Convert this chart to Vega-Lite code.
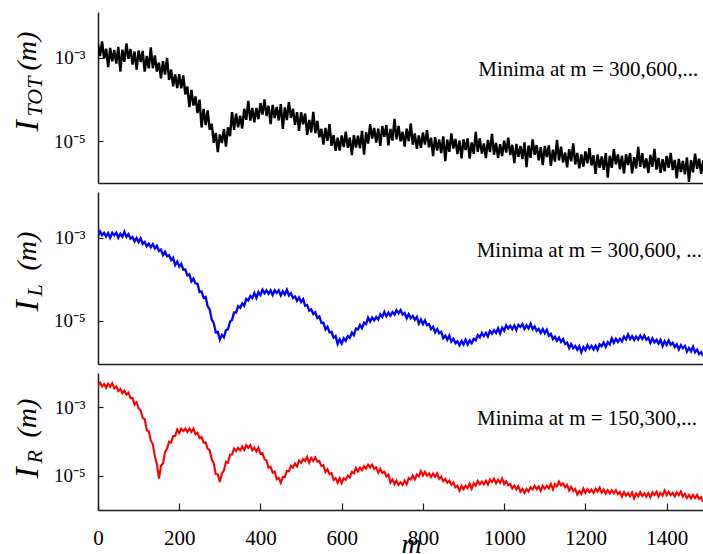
{
  "$schema": "https://vega.github.io/schema/vega-lite/v6.json",
  "padding": {"left": 10, "top": 12, "right": 0, "bottom": 0},
  "spacing": 9,
  "config": {
    "view": {"stroke": null},
    "font": "Liberation Serif",
    "axis": {
      "grid": false,
      "domainColor": "#1a1a1a",
      "domainWidth": 1.5,
      "tickColor": "#1a1a1a",
      "tickWidth": 1.2,
      "labelFont": "Liberation Serif",
      "labelColor": "#000",
      "labelFontSize": 19,
      "titleFont": "Liberation Serif",
      "titleColor": "#000",
      "titleFontWeight": "normal",
      "titleFontStyle": "italic"
    },
    "axisY": {
      "titleAngle": 270,
      "titleAlign": "left",
      "titleBaseline": "alphabetic"
    }
  },
  "datasets": {
    "tot": [
      {"m":0,"I":2.14e-3},{"m":5,"I":1.1e-3},{"m":10,"I":2.48e-3},{"m":15,"I":9.6e-4},{"m":20,"I":1.66e-3},{"m":25,"I":6.02e-4},{"m":30,"I":1.73e-3},{"m":35,"I":8.32e-4},{"m":40,"I":1.54e-3},{"m":45,"I":7.32e-4},
      {"m":50,"I":1.84e-3},{"m":55,"I":4.71e-4},{"m":60,"I":1.57e-3},{"m":65,"I":8.01e-4},{"m":70,"I":2.21e-3},{"m":75,"I":9.5e-4},{"m":80,"I":1.63e-3},{"m":85,"I":6.9e-4},{"m":90,"I":1.42e-3},{"m":95,"I":5.24e-4},
      {"m":100,"I":1.5e-3},{"m":105,"I":8.0e-4},{"m":110,"I":1.47e-3},{"m":115,"I":4.66e-4},{"m":120,"I":1.11e-3},{"m":125,"I":5.64e-4},{"m":130,"I":1.79e-3},{"m":135,"I":5.65e-4},{"m":140,"I":1.15e-3},{"m":145,"I":4.72e-4},
      {"m":150,"I":7.7e-4},{"m":155,"I":3.25e-4},{"m":160,"I":8.3e-4},{"m":165,"I":3.97e-4},{"m":170,"I":1.0e-3},{"m":175,"I":2.95e-4},{"m":180,"I":5.26e-4},{"m":185,"I":2.08e-4},{"m":190,"I":4.03e-4},{"m":195,"I":1.89e-4},
      {"m":200,"I":4.08e-4},{"m":205,"I":1.87e-4},{"m":210,"I":3.81e-4},{"m":215,"I":1.33e-4},{"m":220,"I":2.05e-4},{"m":225,"I":6.6e-5},{"m":230,"I":1.7e-4},{"m":235,"I":7.2e-5},{"m":240,"I":1.19e-4},{"m":245,"I":4.74e-5},
      {"m":250,"I":1.0e-4},{"m":255,"I":2.14e-5},{"m":260,"I":5.96e-5},{"m":265,"I":2.46e-5},{"m":270,"I":5.5e-5},{"m":275,"I":1.9e-5},{"m":280,"I":2.63e-5},{"m":285,"I":9.2e-6},{"m":290,"I":1.59e-5},{"m":295,"I":5.5e-6},
      {"m":300,"I":1.46e-5},{"m":305,"I":9.1e-6},{"m":310,"I":1.97e-5},{"m":315,"I":7.5e-6},{"m":320,"I":2.17e-5},{"m":325,"I":1.32e-5},{"m":330,"I":5.0e-5},{"m":335,"I":1.89e-5},{"m":340,"I":4.58e-5},{"m":345,"I":2.17e-5},
      {"m":350,"I":4.13e-5},{"m":355,"I":2.03e-5},{"m":360,"I":6.03e-5},{"m":365,"I":3.28e-5},{"m":370,"I":9.27e-5},{"m":375,"I":3.13e-5},{"m":380,"I":6.3e-5},{"m":385,"I":2.85e-5},{"m":390,"I":6.32e-5},{"m":395,"I":3.39e-5},
      {"m":400,"I":8.27e-5},{"m":405,"I":4.37e-5},{"m":410,"I":1.01e-4},{"m":415,"I":4.03e-5},{"m":420,"I":7.08e-5},{"m":425,"I":2.58e-5},{"m":430,"I":7.45e-5},{"m":435,"I":3.61e-5},{"m":440,"I":6.67e-5},{"m":445,"I":3.16e-5},
      {"m":450,"I":7.83e-5},{"m":455,"I":1.99e-5},{"m":460,"I":6.5e-5},{"m":465,"I":3.22e-5},{"m":470,"I":8.73e-5},{"m":475,"I":3.64e-5},{"m":480,"I":6.06e-5},{"m":485,"I":2.48e-5},{"m":490,"I":5.01e-5},{"m":495,"I":1.79e-5},
      {"m":500,"I":4.96e-5},{"m":505,"I":2.57e-5},{"m":510,"I":4.62e-5},{"m":515,"I":1.43e-5},{"m":520,"I":3.27e-5},{"m":525,"I":1.63e-5},{"m":530,"I":5.07e-5},{"m":535,"I":1.56e-5},{"m":540,"I":3.09e-5},{"m":545,"I":1.25e-5},
      {"m":550,"I":1.99e-5},{"m":555,"I":8.3e-6},{"m":560,"I":2.09e-5},{"m":565,"I":1.02e-5},{"m":570,"I":2.6e-5},{"m":575,"I":7.8e-6},{"m":580,"I":1.41e-5},{"m":585,"I":5.9e-6},{"m":590,"I":1.22e-5},{"m":595,"I":6.0e-6},
      {"m":600,"I":1.38e-5},{"m":605,"I":7.3e-6},{"m":610,"I":1.71e-5},{"m":615,"I":6.95e-6},{"m":620,"I":1.23e-5},{"m":625,"I":4.68e-6},{"m":630,"I":1.41e-5},{"m":635,"I":7.06e-6},{"m":640,"I":1.37e-5},{"m":645,"I":6.82e-6},
      {"m":650,"I":1.78e-5},{"m":655,"I":4.78e-6},{"m":660,"I":1.64e-5},{"m":665,"I":8.8e-6},{"m":670,"I":2.57e-5},{"m":675,"I":1.16e-5},{"m":680,"I":2.09e-5},{"m":685,"I":9.3e-6},{"m":690,"I":2.02e-5},{"m":695,"I":7.8e-6},
      {"m":700,"I":2.32e-5},{"m":705,"I":1.28e-5},{"m":710,"I":2.45e-5},{"m":715,"I":8.0e-6},{"m":720,"I":1.97e-5},{"m":725,"I":1.04e-5},{"m":730,"I":3.43e-5},{"m":735,"I":1.11e-5},{"m":740,"I":2.35e-5},{"m":745,"I":1.0e-5},
      {"m":750,"I":1.69e-5},{"m":755,"I":7.5e-6},{"m":760,"I":2.0e-5},{"m":765,"I":1.01e-5},{"m":770,"I":2.67e-5},{"m":775,"I":8.3e-6},{"m":780,"I":1.55e-5},{"m":785,"I":6.6e-6},{"m":790,"I":1.38e-5},{"m":795,"I":7.0e-6},
      {"m":800,"I":1.62e-5},{"m":805,"I":8.3e-6},{"m":810,"I":1.86e-5},{"m":815,"I":7.2e-6},{"m":820,"I":1.22e-5},{"m":825,"I":4.41e-6},{"m":830,"I":1.26e-5},{"m":835,"I":6.0e-6},{"m":840,"I":1.1e-5},{"m":845,"I":5.24e-6},
      {"m":850,"I":1.31e-5},{"m":855,"I":3.33e-6},{"m":860,"I":1.09e-5},{"m":865,"I":5.57e-6},{"m":870,"I":1.55e-5},{"m":875,"I":6.7e-6},{"m":880,"I":1.14e-5},{"m":885,"I":4.94e-6},{"m":890,"I":1.03e-5},{"m":895,"I":3.89e-6},
      {"m":900,"I":1.11e-5},{"m":905,"I":6.16e-6},{"m":910,"I":1.17e-5},{"m":915,"I":3.85e-6},{"m":920,"I":9.4e-6},{"m":925,"I":5.0e-6},{"m":930,"I":1.69e-5},{"m":935,"I":5.56e-6},{"m":940,"I":1.18e-5},{"m":945,"I":5.08e-6},
      {"m":950,"I":8.9e-6},{"m":955,"I":3.95e-6},{"m":960,"I":1.08e-5},{"m":965,"I":5.54e-6},{"m":970,"I":1.51e-5},{"m":975,"I":4.76e-6},{"m":980,"I":9.2e-6},{"m":985,"I":3.99e-6},{"m":990,"I":8.5e-6},{"m":995,"I":4.39e-6},
      {"m":1000,"I":1.03e-5},{"m":1005,"I":5.35e-6},{"m":1010,"I":1.22e-5},{"m":1015,"I":4.72e-6},{"m":1020,"I":8.25e-6},{"m":1025,"I":2.99e-6},{"m":1030,"I":8.66e-6},{"m":1035,"I":4.22e-6},{"m":1040,"I":7.73e-6},{"m":1045,"I":3.74e-6},
      {"m":1050,"I":9.4e-6},{"m":1055,"I":2.39e-6},{"m":1060,"I":7.9e-6},{"m":1065,"I":4.0e-6},{"m":1070,"I":1.11e-5},{"m":1075,"I":4.76e-6},{"m":1080,"I":8.1e-6},{"m":1085,"I":3.49e-6},{"m":1090,"I":7.2e-6},{"m":1095,"I":2.7e-6},
      {"m":1100,"I":7.7e-6},{"m":1105,"I":4.2e-6},{"m":1110,"I":8.0e-6},{"m":1115,"I":2.57e-6},{"m":1120,"I":6.3e-6},{"m":1125,"I":3.26e-6},{"m":1130,"I":1.08e-5},{"m":1135,"I":3.51e-6},{"m":1140,"I":7.4e-6},{"m":1145,"I":3.12e-6},
      {"m":1150,"I":5.36e-6},{"m":1155,"I":2.38e-6},{"m":1160,"I":6.43e-6},{"m":1165,"I":3.32e-6},{"m":1170,"I":8.9e-6},{"m":1175,"I":2.78e-6},{"m":1180,"I":5.26e-6},{"m":1185,"I":2.25e-6},{"m":1190,"I":4.82e-6},{"m":1195,"I":2.46e-6},
      {"m":1200,"I":5.74e-6},{"m":1205,"I":2.95e-6},{"m":1210,"I":6.81e-6},{"m":1215,"I":2.64e-6},{"m":1220,"I":4.61e-6},{"m":1225,"I":1.66e-6},{"m":1230,"I":4.82e-6},{"m":1235,"I":2.32e-6},{"m":1240,"I":4.34e-6},{"m":1245,"I":2.08e-6},
      {"m":1250,"I":5.22e-6},{"m":1255,"I":1.35e-6},{"m":1260,"I":4.5e-6},{"m":1265,"I":2.32e-6},{"m":1270,"I":6.52e-6},{"m":1275,"I":2.8e-6},{"m":1280,"I":4.82e-6},{"m":1285,"I":2.13e-6},{"m":1290,"I":4.49e-6},{"m":1295,"I":1.69e-6},
      {"m":1300,"I":4.88e-6},{"m":1305,"I":2.71e-6},{"m":1310,"I":5.22e-6},{"m":1315,"I":1.71e-6},{"m":1320,"I":4.17e-6},{"m":1325,"I":2.23e-6},{"m":1330,"I":7.38e-6},{"m":1335,"I":2.44e-6},{"m":1340,"I":5.17e-6},{"m":1345,"I":2.25e-6},
      {"m":1350,"I":3.89e-6},{"m":1355,"I":1.74e-6},{"m":1360,"I":4.71e-6},{"m":1365,"I":2.44e-6},{"m":1370,"I":6.57e-6},{"m":1375,"I":2.1e-6},{"m":1380,"I":4.01e-6},{"m":1385,"I":1.75e-6},{"m":1390,"I":3.71e-6},{"m":1395,"I":1.91e-6},
      {"m":1400,"I":4.48e-6},{"m":1405,"I":2.33e-6},{"m":1410,"I":5.29e-6},{"m":1415,"I":2.05e-6},{"m":1420,"I":3.57e-6},{"m":1425,"I":1.3e-6},{"m":1430,"I":3.77e-6},{"m":1435,"I":1.82e-6},{"m":1440,"I":3.37e-6},{"m":1445,"I":1.62e-6},
      {"m":1450,"I":4.09e-6},{"m":1455,"I":1.06e-6},{"m":1460,"I":3.51e-6},{"m":1465,"I":1.81e-6},{"m":1470,"I":5.04e-6},{"m":1475,"I":2.2e-6},{"m":1480,"I":3.81e-6},{"m":1485,"I":1.65e-6},{"m":1490,"I":3.51e-6}
    ],
    "left": [
      {"m":0,"I":1.07e-3},{"m":5,"I":1.41e-3},{"m":10,"I":1.15e-3},{"m":15,"I":1.32e-3},{"m":20,"I":1.07e-3},{"m":25,"I":1.29e-3},{"m":30,"I":1.0e-3},{"m":35,"I":1.32e-3},{"m":40,"I":1.15e-3},{"m":45,"I":1.33e-3},
      {"m":50,"I":1.0e-3},{"m":55,"I":1.24e-3},{"m":60,"I":1.05e-3},{"m":65,"I":1.4e-3},{"m":70,"I":1.05e-3},{"m":75,"I":1.22e-3},{"m":80,"I":9.5e-4},{"m":85,"I":1.04e-3},{"m":90,"I":8.1e-4},{"m":95,"I":9.9e-4},
      {"m":100,"I":7.8e-4},{"m":105,"I":9.7e-4},{"m":110,"I":7.1e-4},{"m":115,"I":7.9e-4},{"m":120,"I":6.2e-4},{"m":125,"I":7.2e-4},{"m":130,"I":5.9e-4},{"m":135,"I":7.0e-4},{"m":140,"I":5.5e-4},{"m":145,"I":6.4e-4},
      {"m":150,"I":4.8e-4},{"m":155,"I":5.2e-4},{"m":160,"I":3.8e-4},{"m":165,"I":4.6e-4},{"m":170,"I":3.55e-4},{"m":175,"I":3.8e-4},{"m":180,"I":2.9e-4},{"m":185,"I":3.3e-4},{"m":190,"I":2.2e-4},{"m":195,"I":2.66e-4},
      {"m":200,"I":2.0e-4},{"m":205,"I":2.34e-4},{"m":210,"I":1.7e-4},{"m":215,"I":1.72e-4},{"m":220,"I":1.23e-4},{"m":225,"I":1.3e-4},{"m":230,"I":8.9e-5},{"m":235,"I":1.04e-4},{"m":240,"I":7.9e-5},{"m":245,"I":7.8e-5},
      {"m":250,"I":4.9e-5},{"m":255,"I":5.1e-5},{"m":260,"I":3.55e-5},{"m":265,"I":3.76e-5},{"m":270,"I":2.24e-5},{"m":275,"I":1.88e-5},{"m":280,"I":1.07e-5},{"m":285,"I":8.8e-6},{"m":290,"I":5.25e-6},{"m":295,"I":5.4e-6},
      {"m":300,"I":3.55e-6},{"m":305,"I":4.57e-6},{"m":310,"I":3.98e-6},{"m":315,"I":5.96e-6},{"m":320,"I":6.2e-6},{"m":325,"I":9.5e-6},{"m":330,"I":1.05e-5},{"m":335,"I":1.58e-5},{"m":340,"I":1.58e-5},{"m":345,"I":2.24e-5},
      {"m":350,"I":2.04e-5},{"m":355,"I":2.63e-5},{"m":360,"I":2.29e-5},{"m":365,"I":3.35e-5},{"m":370,"I":3.09e-5},{"m":375,"I":3.94e-5},{"m":380,"I":3.55e-5},{"m":385,"I":4.68e-5},{"m":390,"I":3.55e-5},{"m":395,"I":4.9e-5},
      {"m":400,"I":4.17e-5},{"m":405,"I":5.6e-5},{"m":410,"I":4.57e-5},{"m":415,"I":5.4e-5},{"m":420,"I":4.47e-5},{"m":425,"I":5.4e-5},{"m":430,"I":4.17e-5},{"m":435,"I":5.4e-5},{"m":440,"I":4.68e-5},{"m":445,"I":5.4e-5},
      {"m":450,"I":4.07e-5},{"m":455,"I":5.1e-5},{"m":460,"I":4.27e-5},{"m":465,"I":5.6e-5},{"m":470,"I":4.07e-5},{"m":475,"I":4.62e-5},{"m":480,"I":3.55e-5},{"m":485,"I":3.85e-5},{"m":490,"I":3.02e-5},{"m":495,"I":3.63e-5},
      {"m":500,"I":2.82e-5},{"m":505,"I":3.31e-5},{"m":510,"I":2.29e-5},{"m":515,"I":2.4e-5},{"m":520,"I":1.74e-5},{"m":525,"I":1.88e-5},{"m":530,"I":1.45e-5},{"m":535,"I":1.6e-5},{"m":540,"I":1.17e-5},{"m":545,"I":1.27e-5},
      {"m":550,"I":8.9e-6},{"m":555,"I":9.0e-6},{"m":560,"I":6.2e-6},{"m":565,"I":7.2e-6},{"m":570,"I":5.25e-6},{"m":575,"I":5.4e-6},{"m":580,"I":3.9e-6},{"m":585,"I":4.3e-6},{"m":590,"I":2.75e-6},{"m":595,"I":3.55e-6},
      {"m":600,"I":2.82e-6},{"m":605,"I":3.8e-6},{"m":610,"I":3.31e-6},{"m":615,"I":4.27e-6},{"m":620,"I":3.9e-6},{"m":625,"I":5.2e-6},{"m":630,"I":4.47e-6},{"m":635,"I":6.5e-6},{"m":640,"I":6.2e-6},{"m":645,"I":7.9e-6},
      {"m":650,"I":6.6e-6},{"m":655,"I":9.0e-6},{"m":660,"I":8.3e-6},{"m":665,"I":1.19e-5},{"m":670,"I":9.5e-6},{"m":675,"I":1.2e-5},{"m":680,"I":1.02e-5},{"m":685,"I":1.23e-5},{"m":690,"I":1.07e-5},{"m":695,"I":1.43e-5},
      {"m":700,"I":1.23e-5},{"m":705,"I":1.64e-5},{"m":710,"I":1.29e-5},{"m":715,"I":1.57e-5},{"m":720,"I":1.32e-5},{"m":725,"I":1.62e-5},{"m":730,"I":1.41e-5},{"m":735,"I":1.8e-5},{"m":740,"I":1.51e-5},{"m":745,"I":1.82e-5},
      {"m":750,"I":1.41e-5},{"m":755,"I":1.55e-5},{"m":760,"I":1.15e-5},{"m":765,"I":1.45e-5},{"m":770,"I":1.15e-5},{"m":775,"I":1.3e-5},{"m":780,"I":1.05e-5},{"m":785,"I":1.24e-5},{"m":790,"I":8.5e-6},{"m":795,"I":1.07e-5},
      {"m":800,"I":8.3e-6},{"m":805,"I":1.02e-5},{"m":810,"I":7.8e-6},{"m":815,"I":8.3e-6},{"m":820,"I":6.3e-6},{"m":825,"I":7.2e-6},{"m":830,"I":5.25e-6},{"m":835,"I":6.3e-6},{"m":840,"I":5.0e-6},{"m":845,"I":5.4e-6},
      {"m":850,"I":3.8e-6},{"m":855,"I":4.4e-6},{"m":860,"I":3.47e-6},{"m":865,"I":4.4e-6},{"m":870,"I":3.16e-6},{"m":875,"I":3.67e-6},{"m":880,"I":2.88e-6},{"m":885,"I":3.2e-6},{"m":890,"I":2.57e-6},{"m":895,"I":3.27e-6},
      {"m":900,"I":2.69e-6},{"m":905,"I":3.5e-6},{"m":910,"I":2.69e-6},{"m":915,"I":3.35e-6},{"m":920,"I":2.88e-6},{"m":925,"I":3.7e-6},{"m":930,"I":3.39e-6},{"m":935,"I":4.5e-6},{"m":940,"I":3.98e-6},{"m":945,"I":5.1e-6},
      {"m":950,"I":4.27e-6},{"m":955,"I":5.1e-6},{"m":960,"I":4.17e-6},{"m":965,"I":5.7e-6},{"m":970,"I":4.9e-6},{"m":975,"I":5.96e-6},{"m":980,"I":5.1e-6},{"m":985,"I":6.6e-6},{"m":990,"I":4.9e-6},{"m":995,"I":6.8e-6},
      {"m":1000,"I":5.75e-6},{"m":1005,"I":7.8e-6},{"m":1010,"I":6.5e-6},{"m":1015,"I":7.6e-6},{"m":1020,"I":6.3e-6},{"m":1025,"I":7.7e-6},{"m":1030,"I":6.0e-6},{"m":1035,"I":8.0e-6},{"m":1040,"I":7.1e-6},{"m":1045,"I":8.3e-6},
      {"m":1050,"I":6.3e-6},{"m":1055,"I":7.8e-6},{"m":1060,"I":6.5e-6},{"m":1065,"I":8.5e-6},{"m":1070,"I":6.3e-6},{"m":1075,"I":7.3e-6},{"m":1080,"I":5.75e-6},{"m":1085,"I":6.4e-6},{"m":1090,"I":5.1e-6},{"m":1095,"I":6.3e-6},
      {"m":1100,"I":5.0e-6},{"m":1105,"I":6.1e-6},{"m":1110,"I":4.37e-6},{"m":1115,"I":4.8e-6},{"m":1120,"I":3.63e-6},{"m":1125,"I":4.1e-6},{"m":1130,"I":3.31e-6},{"m":1135,"I":3.94e-6},{"m":1140,"I":3.09e-6},{"m":1145,"I":3.63e-6},
      {"m":1150,"I":2.75e-6},{"m":1155,"I":2.99e-6},{"m":1160,"I":2.19e-6},{"m":1165,"I":2.75e-6},{"m":1170,"I":2.19e-6},{"m":1175,"I":2.48e-6},{"m":1180,"I":2.0e-6},{"m":1185,"I":2.45e-6},{"m":1190,"I":1.74e-6},{"m":1195,"I":2.34e-6},
      {"m":1200,"I":1.95e-6},{"m":1205,"I":2.6e-6},{"m":1210,"I":2.14e-6},{"m":1215,"I":2.48e-6},{"m":1220,"I":2.04e-6},{"m":1225,"I":2.51e-6},{"m":1230,"I":2.0e-6},{"m":1235,"I":2.72e-6},{"m":1240,"I":2.45e-6},{"m":1245,"I":2.99e-6},
      {"m":1250,"I":2.34e-6},{"m":1255,"I":3.05e-6},{"m":1260,"I":2.69e-6},{"m":1265,"I":3.76e-6},{"m":1270,"I":2.95e-6},{"m":1275,"I":3.67e-6},{"m":1280,"I":3.09e-6},{"m":1285,"I":3.67e-6},{"m":1290,"I":3.16e-6},{"m":1295,"I":4.17e-6},
      {"m":1300,"I":3.55e-6},{"m":1305,"I":4.68e-6},{"m":1310,"I":3.63e-6},{"m":1315,"I":4.27e-6},{"m":1320,"I":3.47e-6},{"m":1325,"I":4.17e-6},{"m":1330,"I":3.55e-6},{"m":1335,"I":4.4e-6},{"m":1340,"I":3.63e-6},{"m":1345,"I":4.4e-6},
      {"m":1350,"I":3.47e-6},{"m":1355,"I":3.9e-6},{"m":1360,"I":2.95e-6},{"m":1365,"I":3.76e-6},{"m":1370,"I":3.02e-6},{"m":1375,"I":3.47e-6},{"m":1380,"I":2.82e-6},{"m":1385,"I":3.47e-6},{"m":1390,"I":2.45e-6},{"m":1395,"I":3.24e-6},
      {"m":1400,"I":2.63e-6},{"m":1405,"I":3.35e-6},{"m":1410,"I":2.63e-6},{"m":1415,"I":2.95e-6},{"m":1420,"I":2.34e-6},{"m":1425,"I":2.72e-6},{"m":1430,"I":2.04e-6},{"m":1435,"I":2.6e-6},{"m":1440,"I":2.19e-6},{"m":1445,"I":2.48e-6},
      {"m":1450,"I":1.82e-6},{"m":1455,"I":2.21e-6},{"m":1460,"I":1.82e-6},{"m":1465,"I":2.37e-6},{"m":1470,"I":1.74e-6},{"m":1475,"I":2.02e-6},{"m":1480,"I":1.58e-6},{"m":1485,"I":1.76e-6},{"m":1490,"I":1.41e-6}
    ],
    "right": [
      {"m":0,"I":4.17e-3},{"m":5,"I":5.2e-3},{"m":10,"I":4.07e-3},{"m":15,"I":4.73e-3},{"m":20,"I":3.72e-3},{"m":25,"I":4.84e-3},{"m":30,"I":3.98e-3},{"m":35,"I":5.07e-3},{"m":40,"I":3.55e-3},{"m":45,"I":4.07e-3},
      {"m":50,"I":2.95e-3},{"m":55,"I":3.43e-3},{"m":60,"I":2.57e-3},{"m":65,"I":3.05e-3},{"m":70,"I":2.34e-3},{"m":75,"I":2.66e-3},{"m":80,"I":1.86e-3},{"m":85,"I":1.88e-3},{"m":90,"I":1.2e-3},{"m":95,"I":1.4e-3},
      {"m":100,"I":9.3e-4},{"m":105,"I":8.2e-4},{"m":110,"I":4.9e-4},{"m":115,"I":4.5e-4},{"m":120,"I":2.14e-4},{"m":125,"I":1.97e-4},{"m":130,"I":1.07e-4},{"m":135,"I":8.3e-5},{"m":140,"I":3.72e-5},{"m":145,"I":2.19e-5},
      {"m":150,"I":8.3e-6},{"m":155,"I":1.95e-5},{"m":160,"I":2.29e-5},{"m":165,"I":4.9e-5},{"m":170,"I":6.2e-5},{"m":175,"I":9.9e-5},{"m":180,"I":9.3e-5},{"m":185,"I":1.45e-4},{"m":190,"I":1.45e-4},{"m":195,"I":2.24e-4},
      {"m":200,"I":1.78e-4},{"m":205,"I":2.37e-4},{"m":210,"I":2.0e-4},{"m":215,"I":2.37e-4},{"m":220,"I":1.91e-4},{"m":225,"I":2.4e-4},{"m":230,"I":1.91e-4},{"m":235,"I":2.37e-4},{"m":240,"I":1.62e-4},{"m":245,"I":1.8e-4},
      {"m":250,"I":1.26e-4},{"m":255,"I":1.35e-4},{"m":260,"I":9.3e-5},{"m":265,"I":9.4e-5},{"m":270,"I":6.2e-5},{"m":275,"I":5.5e-5},{"m":280,"I":3.02e-5},{"m":285,"I":2.32e-5},{"m":290,"I":1.12e-5},{"m":295,"I":1.1e-5},
      {"m":300,"I":6.6e-6},{"m":305,"I":1.17e-5},{"m":310,"I":1.41e-5},{"m":315,"I":2.57e-5},{"m":320,"I":2.4e-5},{"m":325,"I":4.1e-5},{"m":330,"I":4.17e-5},{"m":335,"I":6.2e-5},{"m":340,"I":5.25e-5},{"m":345,"I":6.5e-5},
      {"m":350,"I":5.5e-5},{"m":355,"I":7.2e-5},{"m":360,"I":5.6e-5},{"m":365,"I":7.85e-5},{"m":370,"I":6.6e-5},{"m":375,"I":7.85e-5},{"m":380,"I":5.5e-5},{"m":385,"I":6.6e-5},{"m":390,"I":5.1e-5},{"m":395,"I":6.6e-5},
      {"m":400,"I":4.37e-5},{"m":405,"I":4.57e-5},{"m":410,"I":3.02e-5},{"m":415,"I":2.75e-5},{"m":420,"I":1.7e-5},{"m":425,"I":1.82e-5},{"m":430,"I":1.23e-5},{"m":435,"I":1.33e-5},{"m":440,"I":7.9e-6},{"m":445,"I":8.7e-6},
      {"m":450,"I":6.2e-6},{"m":455,"I":9.3e-6},{"m":460,"I":9.1e-6},{"m":465,"I":1.38e-5},{"m":470,"I":1.35e-5},{"m":475,"I":1.95e-5},{"m":480,"I":1.74e-5},{"m":485,"I":2.26e-5},{"m":490,"I":1.86e-5},{"m":495,"I":2.79e-5},
      {"m":500,"I":2.4e-5},{"m":505,"I":3.09e-5},{"m":510,"I":2.69e-5},{"m":515,"I":3.55e-5},{"m":520,"I":2.4e-5},{"m":525,"I":3.31e-5},{"m":530,"I":2.69e-5},{"m":535,"I":3.47e-5},{"m":540,"I":2.57e-5},{"m":545,"I":2.69e-5},
      {"m":550,"I":1.91e-5},{"m":555,"I":2.04e-5},{"m":560,"I":1.29e-5},{"m":565,"I":1.55e-5},{"m":570,"I":1.12e-5},{"m":575,"I":1.2e-5},{"m":580,"I":7.6e-6},{"m":585,"I":8.5e-6},{"m":590,"I":6.2e-6},{"m":595,"I":8.5e-6},
      {"m":600,"I":6.0e-6},{"m":605,"I":8.5e-6},{"m":610,"I":7.6e-6},{"m":615,"I":1.0e-5},{"m":620,"I":8.9e-6},{"m":625,"I":1.29e-5},{"m":630,"I":1.17e-5},{"m":635,"I":1.68e-5},{"m":640,"I":1.32e-5},{"m":645,"I":1.74e-5},
      {"m":650,"I":1.45e-5},{"m":655,"I":1.91e-5},{"m":660,"I":1.62e-5},{"m":665,"I":2.09e-5},{"m":670,"I":1.74e-5},{"m":675,"I":2.11e-5},{"m":680,"I":1.58e-5},{"m":685,"I":1.76e-5},{"m":690,"I":1.23e-5},{"m":695,"I":1.6e-5},
      {"m":700,"I":1.2e-5},{"m":705,"I":1.3e-5},{"m":710,"I":9.5e-6},{"m":715,"I":1.08e-5},{"m":720,"I":6.3e-6},{"m":725,"I":7.8e-6},{"m":730,"I":5.6e-6},{"m":735,"I":7.2e-6},{"m":740,"I":5.4e-6},{"m":745,"I":6.5e-6},
      {"m":750,"I":5.4e-6},{"m":755,"I":7.2e-6},{"m":760,"I":5.6e-6},{"m":765,"I":8.5e-6},{"m":770,"I":7.8e-6},{"m":775,"I":1.02e-5},{"m":780,"I":7.9e-6},{"m":785,"I":1.08e-5},{"m":790,"I":9.5e-6},{"m":795,"I":1.38e-5},
      {"m":800,"I":1.02e-5},{"m":805,"I":1.29e-5},{"m":810,"I":1.02e-5},{"m":815,"I":1.17e-5},{"m":820,"I":9.1e-6},{"m":825,"I":1.16e-5},{"m":830,"I":9.3e-6},{"m":835,"I":1.17e-5},{"m":840,"I":8.1e-6},{"m":845,"I":9.4e-6},
      {"m":850,"I":6.9e-6},{"m":855,"I":8.1e-6},{"m":860,"I":6.2e-6},{"m":865,"I":7.2e-6},{"m":870,"I":5.5e-6},{"m":875,"I":6.4e-6},{"m":880,"I":4.57e-6},{"m":885,"I":5.1e-6},{"m":890,"I":3.63e-6},{"m":895,"I":5.07e-6},
      {"m":900,"I":4.07e-6},{"m":905,"I":5.1e-6},{"m":910,"I":4.37e-6},{"m":915,"I":5.96e-6},{"m":920,"I":4.17e-6},{"m":925,"I":6.0e-6},{"m":930,"I":5.1e-6},{"m":935,"I":7.1e-6},{"m":940,"I":5.6e-6},{"m":945,"I":6.8e-6},
      {"m":950,"I":5.6e-6},{"m":955,"I":7.2e-6},{"m":960,"I":5.5e-6},{"m":965,"I":7.8e-6},{"m":970,"I":6.6e-6},{"m":975,"I":8.2e-6},{"m":980,"I":6.0e-6},{"m":985,"I":7.6e-6},{"m":990,"I":6.2e-6},{"m":995,"I":8.3e-6},
      {"m":1000,"I":5.75e-6},{"m":1005,"I":6.9e-6},{"m":1010,"I":5.25e-6},{"m":1015,"I":5.75e-6},{"m":1020,"I":4.27e-6},{"m":1025,"I":5.2e-6},{"m":1030,"I":3.98e-6},{"m":1035,"I":4.95e-6},{"m":1040,"I":3.39e-6},{"m":1045,"I":4.1e-6},
      {"m":1050,"I":3.16e-6},{"m":1055,"I":4.1e-6},{"m":1060,"I":3.47e-6},{"m":1065,"I":4.6e-6},{"m":1070,"I":3.98e-6},{"m":1075,"I":5.1e-6},{"m":1080,"I":4.07e-6},{"m":1085,"I":4.84e-6},{"m":1090,"I":3.63e-6},{"m":1095,"I":5.1e-6},
      {"m":1100,"I":4.17e-6},{"m":1105,"I":5.1e-6},{"m":1110,"I":4.27e-6},{"m":1115,"I":5.75e-6},{"m":1120,"I":3.98e-6},{"m":1125,"I":5.75e-6},{"m":1130,"I":4.9e-6},{"m":1135,"I":6.7e-6},{"m":1140,"I":5.25e-6},{"m":1145,"I":5.96e-6},
      {"m":1150,"I":4.57e-6},{"m":1155,"I":5.4e-6},{"m":1160,"I":3.72e-6},{"m":1165,"I":4.68e-6},{"m":1170,"I":3.55e-6},{"m":1175,"I":4.1e-6},{"m":1180,"I":2.82e-6},{"m":1185,"I":3.6e-6},{"m":1190,"I":2.95e-6},{"m":1195,"I":4.27e-6},
      {"m":1200,"I":3.16e-6},{"m":1205,"I":4.07e-6},{"m":1210,"I":3.31e-6},{"m":1215,"I":3.94e-6},{"m":1220,"I":3.16e-6},{"m":1225,"I":4.17e-6},{"m":1230,"I":3.47e-6},{"m":1235,"I":4.5e-6},{"m":1240,"I":3.24e-6},{"m":1245,"I":3.94e-6},
      {"m":1250,"I":3.02e-6},{"m":1255,"I":3.76e-6},{"m":1260,"I":3.02e-6},{"m":1265,"I":3.8e-6},{"m":1270,"I":3.09e-6},{"m":1275,"I":3.8e-6},{"m":1280,"I":2.88e-6},{"m":1285,"I":3.35e-6},{"m":1290,"I":2.45e-6},{"m":1295,"I":3.35e-6},
      {"m":1300,"I":2.63e-6},{"m":1305,"I":3.13e-6},{"m":1310,"I":2.51e-6},{"m":1315,"I":3.27e-6},{"m":1320,"I":2.19e-6},{"m":1325,"I":3.05e-6},{"m":1330,"I":2.51e-6},{"m":1335,"I":3.35e-6},{"m":1340,"I":2.57e-6},{"m":1345,"I":3.05e-6},
      {"m":1350,"I":2.45e-6},{"m":1355,"I":3.13e-6},{"m":1360,"I":2.34e-6},{"m":1365,"I":3.27e-6},{"m":1370,"I":2.75e-6},{"m":1375,"I":3.39e-6},{"m":1380,"I":2.45e-6},{"m":1385,"I":3.16e-6},{"m":1390,"I":2.63e-6},{"m":1395,"I":3.72e-6},
      {"m":1400,"I":2.69e-6},{"m":1405,"I":3.39e-6},{"m":1410,"I":2.69e-6},{"m":1415,"I":3.16e-6},{"m":1420,"I":2.51e-6},{"m":1425,"I":3.27e-6},{"m":1430,"I":2.69e-6},{"m":1435,"I":3.47e-6},{"m":1440,"I":2.45e-6},{"m":1445,"I":2.95e-6},
      {"m":1450,"I":2.24e-6},{"m":1455,"I":2.75e-6},{"m":1460,"I":2.19e-6},{"m":1465,"I":2.75e-6},{"m":1470,"I":2.24e-6},{"m":1475,"I":2.75e-6},{"m":1480,"I":2.09e-6},{"m":1485,"I":2.4e-6},{"m":1490,"I":1.74e-6}
    ]
  },
  "vconcat": [
    {
      "width": 606,
      "height": 171,
      "layer": [
        {
          "data": {"name": "tot"},
          "mark": {"type": "line", "color": "#000", "strokeWidth": 2.4, "strokeJoin": "miter", "clip": true},
          "encoding": {
            "x": {"field": "m", "type": "quantitative",
                  "scale": {"domain": [0, 1492], "nice": false, "zero": false},
                  "axis": {"labels": false, "ticks": false, "title": null}},
            "y": {"field": "I", "type": "quantitative",
                  "scale": {"type": "log", "domain": [1e-6, 1.26e-2], "nice": false},
                  "axis": {"orient": "left", "values": [1e-5, 1e-3], "labelExpr": "datum.value < 1e-4 ? '10⁻⁵' : '10⁻³'",
                           "tickSize": -5, "labelPadding": 18,
                           "title": "(m)", "titleFontSize": 28, "titleX": -63, "titleY": 58}}
          }
        },
        {
          "data": {"values": [{"m": 1478, "I": 5.2e-4, "note": "Minima at m = 300,600,..."}]},
          "mark": {"type": "text", "align": "right", "baseline": "middle", "fontSize": 21, "font": "Liberation Serif", "color": "#000"},
          "encoding": {
            "x": {"field": "m", "type": "quantitative"},
            "y": {"field": "I", "type": "quantitative",
                  "axis": {"orient": "left", "labels": false, "ticks": false, "domain": false,
                           "title": "TOT", "titleFontSize": 22, "titleX": -57, "titleY": 104}},
            "text": {"field": "note"}
          }
        },
        {
          "data": {"values": []},
          "mark": {"type": "point"},
          "encoding": {
            "y": {"field": "I", "type": "quantitative",
                  "axis": {"orient": "left", "labels": false, "ticks": false, "domain": false,
                           "title": "I", "titleFontSize": 34, "titleX": -61, "titleY": 119}}
          }
        }
      ],
      "resolve": {"axis": {"y": "independent"}}
    },
    {
      "width": 606,
      "height": 172,
      "layer": [
        {
          "data": {"name": "left"},
          "mark": {"type": "line", "color": "#0000ff", "strokeWidth": 2.3, "clip": true},
          "encoding": {
            "x": {"field": "m", "type": "quantitative",
                  "scale": {"domain": [0, 1492], "nice": false, "zero": false},
                  "axis": {"labels": false, "ticks": false, "title": null}},
            "y": {"field": "I", "type": "quantitative",
                  "scale": {"type": "log", "domain": [9.1e-7, 1.26e-2], "nice": false},
                  "axis": {"orient": "left", "values": [1e-5, 1e-3], "labelExpr": "datum.value < 1e-4 ? '10⁻⁵' : '10⁻³'",
                           "tickSize": -5, "labelPadding": 18,
                           "title": "(m)", "titleFontSize": 28, "titleX": -63, "titleY": 78}}
          }
        },
        {
          "data": {"values": [{"m": 1487, "I": 4.8e-4, "note": "Minima at m = 300,600, ..."}]},
          "mark": {"type": "text", "align": "right", "baseline": "middle", "fontSize": 21, "font": "Liberation Serif", "color": "#000"},
          "encoding": {
            "x": {"field": "m", "type": "quantitative"},
            "y": {"field": "I", "type": "quantitative",
                  "axis": {"orient": "left", "labels": false, "ticks": false, "domain": false,
                           "title": "L", "titleFontSize": 22, "titleX": -57, "titleY": 104}},
            "text": {"field": "note"}
          }
        },
        {
          "data": {"values": []},
          "mark": {"type": "point"},
          "encoding": {
            "y": {"field": "I", "type": "quantitative",
                  "axis": {"orient": "left", "labels": false, "ticks": false, "domain": false,
                           "title": "I", "titleFontSize": 34, "titleX": -61, "titleY": 119}}
          }
        }
      ],
      "resolve": {"axis": {"y": "independent"}}
    },
    {
      "width": 606,
      "height": 137,
      "layer": [
        {
          "data": {"name": "right"},
          "mark": {"type": "line", "color": "#ff0000", "strokeWidth": 2.1, "clip": true},
          "encoding": {
            "x": {"field": "m", "type": "quantitative",
                  "scale": {"domain": [0, 1492], "nice": false, "zero": false},
                  "axis": {"values": [0, 200, 400, 600, 800, 1000, 1200, 1400], "format": "d",
                           "tickSize": -7, "labelPadding": 24, "labelFontSize": 21, "labelFlush": false,
                           "title": "m", "titleFontSize": 28, "titleBaseline": "alphabetic",
                           "titleX": 313, "titleY": 42}},
            "y": {"field": "I", "type": "quantitative",
                  "scale": {"type": "log", "domain": [1e-6, 1e-2], "nice": false},
                  "axis": {"orient": "left", "values": [1e-5, 1e-3], "labelExpr": "datum.value < 1e-4 ? '10⁻⁵' : '10⁻³'",
                           "tickSize": -5, "labelPadding": 18,
                           "title": "(m)", "titleFontSize": 28, "titleX": -63, "titleY": 64}}
          }
        },
        {
          "data": {"values": [{"m": 1475, "I": 4.4e-4, "note": "Minima at m = 150,300,..."}]},
          "mark": {"type": "text", "align": "right", "baseline": "middle", "fontSize": 21, "font": "Liberation Serif", "color": "#000"},
          "encoding": {
            "x": {"field": "m", "type": "quantitative"},
            "y": {"field": "I", "type": "quantitative",
                  "axis": {"orient": "left", "labels": false, "ticks": false, "domain": false,
                           "title": "R", "titleFontSize": 22, "titleX": -57, "titleY": 90}},
            "text": {"field": "note"}
          }
        },
        {
          "data": {"values": []},
          "mark": {"type": "point"},
          "encoding": {
            "y": {"field": "I", "type": "quantitative",
                  "axis": {"orient": "left", "labels": false, "ticks": false, "domain": false,
                           "title": "I", "titleFontSize": 34, "titleX": -61, "titleY": 105}}
          }
        }
      ],
      "resolve": {"axis": {"y": "independent"}}
    }
  ]
}
